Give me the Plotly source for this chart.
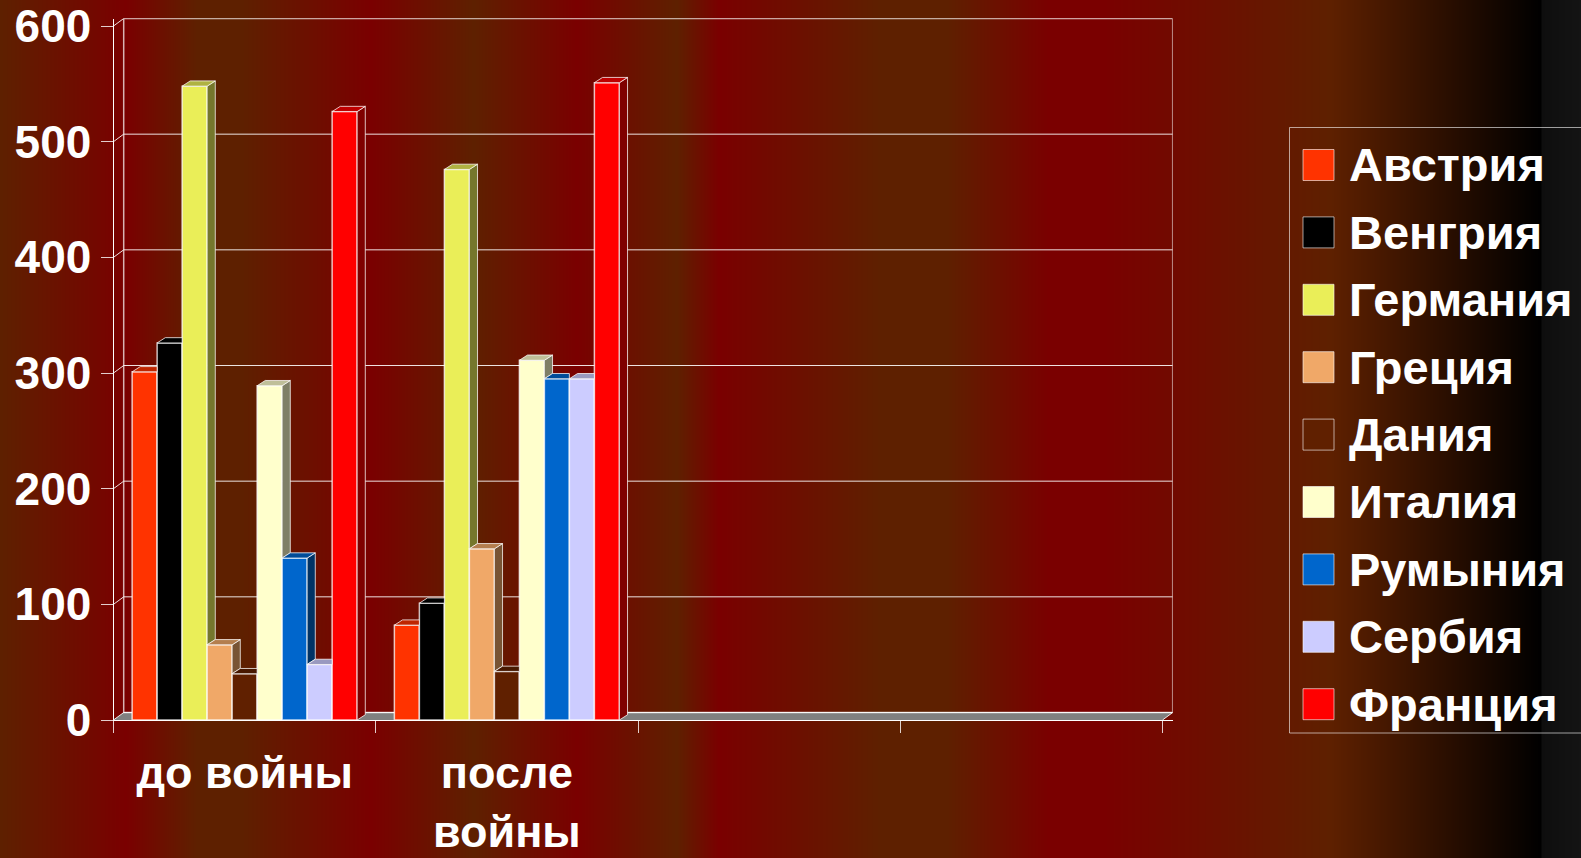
import numpy as np
import plotly.graph_objects as go

CATEGORIES = ["до войны", "после<br>войны"]
SERIES = ["Австрия", "Венгрия", "Германия", "Греция", "Дания", "Италия", "Румыния", "Сербия", "Франция"]
BEFORE_WAR = [301, 326, 548, 65, 40, 289, 140, 48, 526]
AFTER_WAR = [82, 101, 476, 148, 42, 311, 295, 295, 551]
COLORS = ["#FF3300", "#000000", "#EAEE58", "#F0A868", "#602000", "#FFFFCC", "#0066CC", "#CCCCFF", "#FF0000"]
Y_TICKS = [0, 100, 200, 300, 400, 500, 600]

MAROON, BROWN = "#7A0000", "#5E2000"
BG_STOPS = [(0, BROWN), (125, MAROON), (196, BROWN), (241, BROWN), (370, MAROON), (473, BROWN), (576, MAROON),
            (676, BROWN), (718, MAROON), (880, BROWN), (946, BROWN), (1048, MAROON), (1102, MAROON), (1330, BROWN),
            (1540, "#000000"), (1541, "#0E0E0E"), (1581, "#141414")]

W, H = 1581, 858
X0, X1, XB = 113.5, 1162.5, 1172.7      # front axis ends, back-right edge (pixels)
Y0, Y600, YB = 720.0, 26.0, 18.5        # value 0, value 600, back-top edge (pixels)
DX = (XB - X1) / ((X1 - X0) / 4)
DY = (Y0 - YB) / ((Y0 - Y600) / 600) - 600
BAR_DX, BAR_DY = 0.8 * DX, 0.7 * DY
BAR_SPAN = 225 / 262.25
EDGE = "rgba(255,255,255,0.75)"
GRID = "rgba(255,255,255,0.88)"


def shade(hex_color, k):
    r, g, b = (int(hex_color[i:i + 2], 16) for i in (1, 3, 5))
    return f"rgb({int(r * k)},{int(g * k)},{int(b * k)})"


fig = go.Figure()

# full-page horizontal banded background
xs = np.arange(W) + 0.5
colorscale = [[p / W, c] for p, c in BG_STOPS]
colorscale[-1][0] = 1.0
fig.add_trace(go.Heatmap(x=xs, y=[-1, 2], z=[xs / W, xs / W], colorscale=colorscale, zmin=0, zmax=1,
                         zsmooth="best", showscale=False, hoverinfo="skip", xaxis="x", yaxis="y"))

# bars
for name, color, a, b in zip(SERIES, COLORS, BEFORE_WAR, AFTER_WAR):
    fig.add_trace(go.Bar(x=[0.5, 1.5], y=[a, b], name=name, marker=dict(color=color, line=dict(color=EDGE, width=1.5)),
                         xaxis="x2", yaxis="y2", showlegend=False))

# depth faces computed from the same values
w = BAR_SPAN / len(SERIES)
for i, color in enumerate(COLORS):
    top_x, top_y, side_x, side_y = [], [], [], []
    for c, vals in enumerate((BEFORE_WAR, AFTER_WAR)):
        v = vals[i]
        nxt = vals[i + 1] if i + 1 < len(vals) else 0
        l = c + 0.5 - BAR_SPAN / 2 + i * w
        r = l + w
        if nxt >= v:
            top_x += [l, l + BAR_DX, r, r, l, None]
            top_y += [v, v + BAR_DY, v + BAR_DY, v, v, None]
        else:
            top_x += [l, l + BAR_DX, r + BAR_DX, r, l, None]
            top_y += [v, v + BAR_DY, v + BAR_DY, v, v, None]
            side_x += [r, r + BAR_DX, r + BAR_DX, r, r, None]
            side_y += [v, v + BAR_DY, nxt + BAR_DY, nxt, v, None]
    fig.add_trace(go.Scatter(x=side_x, y=side_y, mode="lines", fill="toself", fillcolor=shade(color, 0.5),
                             line=dict(color=EDGE, width=1), hoverinfo="skip", showlegend=False,
                             xaxis="x2", yaxis="y2", cliponaxis=False))
    fig.add_trace(go.Scatter(x=top_x, y=top_y, mode="lines", fill="toself", fillcolor=shade(color, 0.75),
                             line=dict(color=EDGE, width=1), hoverinfo="skip", showlegend=False,
                             xaxis="x2", yaxis="y2", cliponaxis=False))

shapes = []
line = dict(color=GRID, width=1)
# floor
shapes.append(dict(type="path", xref="x2", yref="y2", layer="below", fillcolor="#808080", line=dict(width=0),
                   path=f"M 0 0 L {DX} {DY} L {4 + DX} {DY} L 4 0 Z"))
# back wall frame and grid
shapes.append(dict(type="rect", xref="x2", yref="y2", layer="below", x0=DX, x1=4 + DX, y0=DY, y1=600 + DY,
                   line=dict(color="rgba(255,255,255,0.7)", width=1.5)))
for t in Y_TICKS:
    shapes.append(dict(type="line", xref="x2", yref="y2", layer="below", x0=DX, x1=4 + DX, y0=t + DY, y1=t + DY, line=line))
    shapes.append(dict(type="line", xref="x2", yref="y2", layer="below", x0=0, x1=DX, y0=t, y1=t + DY, line=line))
shapes.append(dict(type="line", xref="x2", yref="y2", layer="below", x0=4, x1=4 + DX, y0=0, y1=DY, line=line))

# legend box and swatches
LEG_L, LEG_T, LEG_B = 1289.5, 127.5, 733
SW_L, SW_SIZE, ROW0, ROW_STEP = 1303, 31, 165, 67.4
FONT = dict(family="Liberation Sans", size=47, color="white", weight="bold")
Y_FONT = dict(family="Liberation Sans", size=46, color="white", weight="bold")
X_FONT = dict(family="Liberation Sans", size=45, color="white", weight="bold")
px = lambda v: v / W
py = lambda v: 1 - v / H
shapes.append(dict(type="rect", xref="paper", yref="paper", x0=px(LEG_L), x1=1.01, y0=py(LEG_B), y1=py(LEG_T),
                   line=dict(color="rgba(255,255,255,0.6)", width=1)))
annotations = []
for i, (name, color) in enumerate(zip(SERIES, COLORS)):
    cy = ROW0 + i * ROW_STEP
    shapes.append(dict(type="rect", xref="paper", yref="paper", x0=px(SW_L), x1=px(SW_L + SW_SIZE),
                       y0=py(cy + SW_SIZE / 2), y1=py(cy - SW_SIZE / 2), fillcolor=color,
                       line=dict(color="rgba(255,255,255,0.6)", width=1)))
    annotations.append(dict(xref="paper", yref="paper", x=px(1347), y=py(cy), text=name, showarrow=False,
                            xanchor="left", yanchor="middle", font=FONT))

fig.update_layout(
    width=W, height=H, margin=dict(l=0, r=0, t=0, b=0, autoexpand=False), paper_bgcolor=MAROON, plot_bgcolor="rgba(0,0,0,0)",
    barmode="group", bargap=1 - BAR_SPAN, bargroupgap=0, showlegend=False,
    shapes=shapes, annotations=annotations, font=FONT,
    xaxis=dict(domain=[0, 1], range=[0, W], visible=False, fixedrange=True),
    yaxis=dict(domain=[0, 1], range=[0, 1], visible=False, fixedrange=True),
    xaxis2=dict(domain=[X0 / W, XB / W], range=[0, 4 + DX], anchor="y2", tickmode="array", tickvals=[0.5, 1.5],
                ticktext=CATEGORIES, ticks="", showgrid=False, zeroline=False, showline=True, linecolor="white",
                linewidth=1, tickfont=X_FONT, ticklabelstandoff=13,
                minor=dict(tickmode="array", tickvals=[0, 1, 2, 3, 4], ticks="outside", ticklen=12,
                           tickcolor="rgba(255,255,255,0.8)", tickwidth=1, showgrid=False)),
    yaxis2=dict(domain=[1 - Y0 / H, 1 - YB / H], range=[0, 600 + DY], anchor="x2", tickmode="array", tickvals=Y_TICKS,
                ticks="outside", ticklen=12, tickcolor="rgba(255,255,255,0.8)", tickwidth=1, showgrid=False,
                zeroline=False, showline=True, linecolor="white", linewidth=1, tickfont=Y_FONT),
)

fig.write_html("out.html", config=dict(displayModeBar=False),
               post_script="document.body.style.margin='0';document.body.style.overflow='hidden';")
